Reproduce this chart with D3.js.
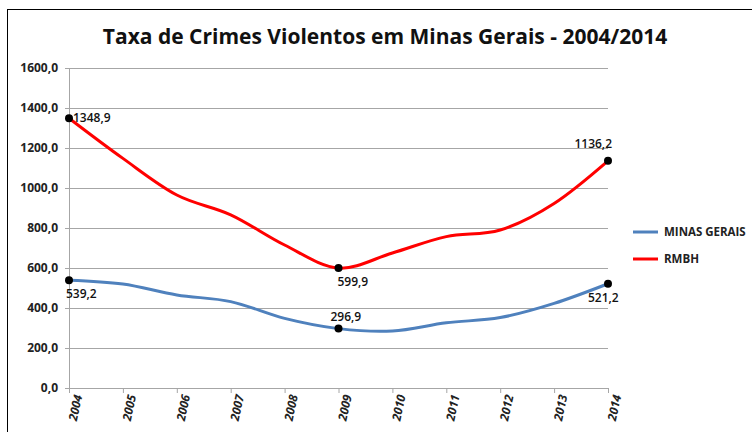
<!DOCTYPE html>
<html>
<head>
<meta charset="utf-8">
<script src="https://cdn.jsdelivr.net/npm/d3@7"></script>
<style>
body { margin: 0; background: #fff; }
svg text { font-family: "Open Sans", "Liberation Sans", sans-serif; }
</style>
</head>
<body>
<svg id="chart" width="752" height="432"></svg>
<script>
var years = ["2004", "2005", "2006", "2007", "2008", "2009", "2010", "2011", "2012", "2013", "2014"];
var minasGerais = [539.2, 520, 465, 432, 348, 296.9, 285, 326, 352, 423, 521.2];
var rmbh = [1348.9, 1148, 965, 866, 715, 599.9, 675, 757, 790, 923, 1136.2];
var yTicks = [0, 200, 400, 600, 800, 1000, 1200, 1400, 1600];

var svg = d3.select("#chart"),
    margin = {top: 68, left: 69},
    width = 539,
    height = 320;

// outer chart border (cropped at right / bottom)
svg.append("rect")
    .attr("x", 7.5).attr("y", 9.5)
    .attr("width", 900).attr("height", 600)
    .attr("fill", "none").attr("stroke", "#000");

svg.append("text")
    .attr("x", 385).attr("y", 44)
    .attr("text-anchor", "middle")
    .attr("font-size", "21px")
    .attr("font-weight", "bold")
    .attr("fill", "#111")
    .text("Taxa de Crimes Violentos em Minas Gerais - 2004/2014");

var x = d3.scalePoint().domain(years).range([0, width]);
var y = d3.scaleLinear().domain([0, 1600]).range([height, 0]);

var g = svg.append("g")
    .attr("transform", "translate(" + margin.left + "," + margin.top + ")");

// gridlines
g.selectAll(".grid")
    .data(yTicks.slice(1))
    .enter().append("line")
    .attr("x1", 0).attr("x2", width)
    .attr("y1", function (d) { return Math.round(y(d)) + 0.5; })
    .attr("y2", function (d) { return Math.round(y(d)) + 0.5; })
    .attr("stroke", "#a6a6a6");

var yAxis = g.append("g")
    .call(d3.axisLeft(y).tickValues(yTicks).tickSize(4)
        .tickFormat(function (d) { return d3.format(".1f")(d).replace(".", ","); }));
yAxis.select(".domain").attr("stroke", "#a6a6a6");
yAxis.selectAll(".tick line").attr("stroke", "#a6a6a6");
yAxis.selectAll("text")
    .attr("font-size", "12px").attr("font-weight", "bold").attr("fill", "#222")
    .attr("x", -11);

var xAxis = g.append("g")
    .attr("transform", "translate(0," + height + ")")
    .call(d3.axisBottom(x).tickSize(5).tickSizeOuter(0));
xAxis.select(".domain").attr("stroke", "#a6a6a6");
xAxis.selectAll(".tick line").attr("stroke", "#a6a6a6");
xAxis.selectAll("text")
    .attr("font-size", "12px").attr("font-weight", "bold").attr("font-style", "italic").attr("fill", "#222")
    .attr("text-anchor", "end")
    .attr("dx", 0).attr("dy", 0)
    .attr("transform", "translate(5,6) rotate(-78)");

var series = [
    {name: "MINAS GERAIS", values: minasGerais, color: "#4f81bd"},
    {name: "RMBH", values: rmbh, color: "#ff0000"}
];

var line = d3.line()
    .x(function (d, i) { return x(years[i]); })
    .y(function (d) { return y(d); })
    .curve(d3.curveCardinal.tension(0));

g.selectAll(".series")
    .data(series)
    .enter().append("path")
    .attr("d", function (d) { return line(d.values); })
    .attr("fill", "none")
    .attr("stroke", function (d) { return d.color; })
    .attr("stroke-width", 3);

// markers and value labels
var fmt = function (v) { return d3.format(".1f")(v).replace(".", ","); };
var pts = [
    {s: 1, yr: "2004", dx: 4, dy: 4, anchor: "start"},
    {s: 0, yr: "2004", dx: -3, dy: 18, anchor: "start"},
    {s: 1, yr: "2009", dx: -1, dy: 18, anchor: "start"},
    {s: 0, yr: "2009", dx: -8, dy: -8, anchor: "start"},
    {s: 1, yr: "2014", dx: 4, dy: -13, anchor: "end"},
    {s: 0, yr: "2014", dx: -20, dy: 18, anchor: "start"}
];
pts.forEach(function (p) {
    var v = series[p.s].values[years.indexOf(p.yr)];
    g.append("circle")
        .attr("cx", x(p.yr)).attr("cy", y(v)).attr("r", 4)
        .attr("fill", "#000");
    g.append("text")
        .attr("x", x(p.yr) + p.dx).attr("y", y(v) + p.dy)
        .attr("text-anchor", p.anchor)
        .attr("font-size", "12px")
        .attr("font-weight", "600")
        .attr("fill", "#111")
        .text(fmt(v));
});

// legend
var legend = svg.selectAll(".legend")
    .data(series)
    .enter().append("g")
    .attr("transform", function (d, i) { return "translate(633," + (232 + i * 27) + ")"; });
legend.append("line")
    .attr("x1", 0).attr("x2", 25)
    .attr("stroke", function (d) { return d.color; })
    .attr("stroke-width", 3);
legend.append("text")
    .attr("x", 31).attr("y", 4)
    .attr("font-size", "11.5px").attr("font-weight", "bold").attr("fill", "#222")
    .text(function (d) { return d.name; });
</script>
</body>
</html>
